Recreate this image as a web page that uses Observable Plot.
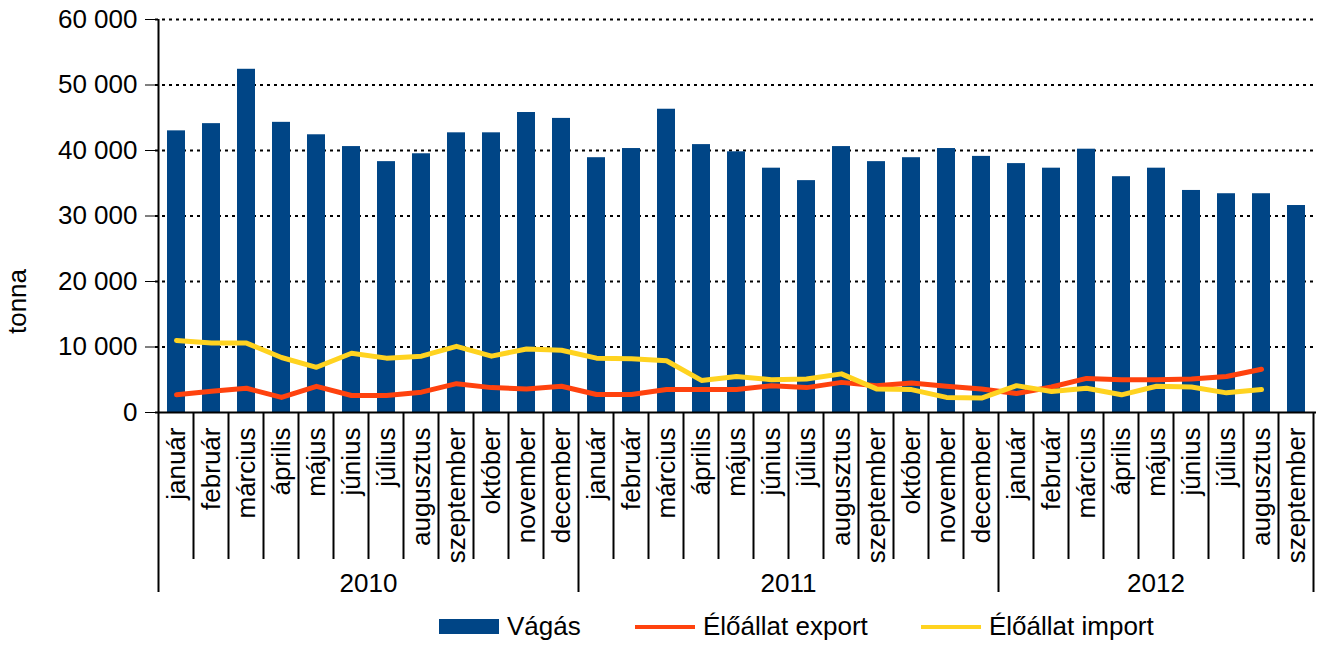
<!DOCTYPE html>
<html>
<head>
<meta charset="utf-8">
<script src="https://cdn.jsdelivr.net/npm/d3@7"></script>
<script src="https://cdn.jsdelivr.net/npm/@observablehq/plot@0.6"></script>
<style>
  html, body { margin: 0; padding: 0; background: #fff; }
  body { width: 1321px; height: 648px; overflow: hidden; font-family: "Liberation Sans", Arial, sans-serif; }
  #legend { position: relative; height: 43px; font-size: 26px; color: #000; }
  .item { position: absolute; top: 0; height: 43px; display: flex; align-items: center; }
  .sw { display: inline-block; width: 60px; margin-right: 8px; }
</style>
</head>
<body>
<div id="chart"></div>
<div id="legend"></div>
<script>
// ---- data ----
const years = [2010, 2011, 2012];
const monthsPerYear = [12, 12, 9];
const monthNames = ["január","február","március","április","május","június","július","augusztus","szeptember","október","november","december"];
const vagas = [43000,44100,52400,44300,42400,40600,38300,39500,42700,42700,45800,44900,
               38900,40300,46300,40900,39800,37300,35400,40600,38300,38900,40300,39100,
               38000,37300,40200,36000,37300,33900,33400,33400,31600];
const elExport = [2700,3250,3700,2300,4000,2600,2600,3100,4400,3800,3600,4000,
                  2750,2750,3500,3500,3500,4100,3800,4600,4100,4500,4000,3600,
                  2900,3900,5200,5000,5000,5100,5500,6600];
const elImport = [11000,10600,10600,8400,6900,9050,8300,8600,10100,8600,9700,9500,
                  8300,8200,7900,4900,5500,5000,5100,5900,3600,3500,2300,2200,
                  4100,3200,3700,2700,4000,3900,3000,3500];
const yTicks = [0,10000,20000,30000,40000,50000,60000];
const seriesNames = ["Vágás","Élőállat export","Élőállat import"];
const seriesColors = ["#004586","#ff420e","#ffd320"];

// ---- build rows ----
const rows = [];
years.forEach((yr, yi) => {
  for (let m = 0; m < monthsPerYear[yi]; m++) {
    rows.push({key: yr + "|" + m, year: yr, month: monthNames[m]});
  }
});
rows.forEach((r, i) => { r.vagas = vagas[i]; r.exp = elExport[i]; r.imp = elImport[i]; });
const keys = rows.map(r => r.key);
const fmt = d => d3.format(",")(d).replace(/,/g, " ");
const font = "'Liberation Sans', Arial, sans-serif";
const fs = 26;

const chart = Plot.plot({
  width: 1321, height: 605,
  marginLeft: 155, marginRight: 5, marginTop: 19, marginBottom: 193,
  style: {fontFamily: font, fontSize: fs + "px", color: "black", background: "white", overflow: "visible"},
  x: {domain: keys, paddingInner: 0.49, paddingOuter: 0.245, align: 0.5, label: null,
      tickSize: 0, tickPadding: 15, tickRotate: -90, tickFormat: k => monthNames[+k.split("|")[1]]},
  y: {domain: [0, 60000], ticks: yTicks, tickSize: 10, tickPadding: 8, label: null, tickFormat: fmt},
  marks: [
    Plot.ruleY(yTicks.filter(t => t > 0), {stroke: "black", strokeWidth: 2, strokeDasharray: "3,4"}),
    Plot.barY(rows, {x: "key", y: "vagas", fill: seriesColors[0]}),
    Plot.line(rows.filter(r => r.exp != null), {x: "key", y: "exp", stroke: seriesColors[1], strokeWidth: 5}),
    Plot.line(rows.filter(r => r.imp != null), {x: "key", y: "imp", stroke: seriesColors[2], strokeWidth: 5}),
    Plot.ruleY([0], {stroke: "black", strokeWidth: 2})
  ]
});
document.getElementById("chart").appendChild(chart);

// ---- two-level category axis, y axis line, axis title (from Plot's scales) ----
const sx = chart.scale("x"), sy = chart.scale("y");
const center = k => sx.apply(k) + sx.bandwidth / 2;
const boundary = i => i < keys.length ? center(keys[i]) - sx.step / 2 : center(keys[keys.length - 1]) + sx.step / 2;
const y0 = sy.apply(0), yTop = sy.apply(60000);
const svg = d3.select(chart);
const g = svg.append("g").attr("stroke", "black").attr("stroke-width", 2);
g.append("line").attr("x1", boundary(0)).attr("x2", boundary(0)).attr("y1", yTop).attr("y2", y0);
const yearStarts = [0];
monthsPerYear.forEach((n, i) => yearStarts.push(yearStarts[i] + n));
for (let i = 0; i <= keys.length; i++) {
  const isYear = yearStarts.includes(i);
  g.append("line").attr("x1", boundary(i)).attr("x2", boundary(i))
    .attr("y1", y0).attr("y2", y0 + (isYear ? 180 : 147));
}
years.forEach((yr, yi) => {
  const xm = (boundary(yearStarts[yi]) + boundary(yearStarts[yi + 1])) / 2;
  svg.append("text").attr("x", xm).attr("y", y0 + 180).attr("text-anchor", "middle")
    .attr("font-family", font).attr("font-size", fs).attr("fill", "black").text(yr);
});
svg.append("text").attr("transform", `translate(26,${(yTop + y0) / 2 + 86}) rotate(-90)`)
  .attr("text-anchor", "middle").attr("font-family", font).attr("font-size", fs).attr("fill", "black").text("tonna");

// ---- legend ----
const legend = d3.select("#legend");
const lefts = [439, 635, 921];
seriesNames.forEach((name, i) => {
  const it = legend.append("div").attr("class", "item").style("left", lefts[i] + "px");
  it.append("span").attr("class", "sw")
    .style("height", i === 0 ? "15px" : "4px")
    .style("background", seriesColors[i]);
  it.append("span").text(name);
});
</script>
</body>
</html>
